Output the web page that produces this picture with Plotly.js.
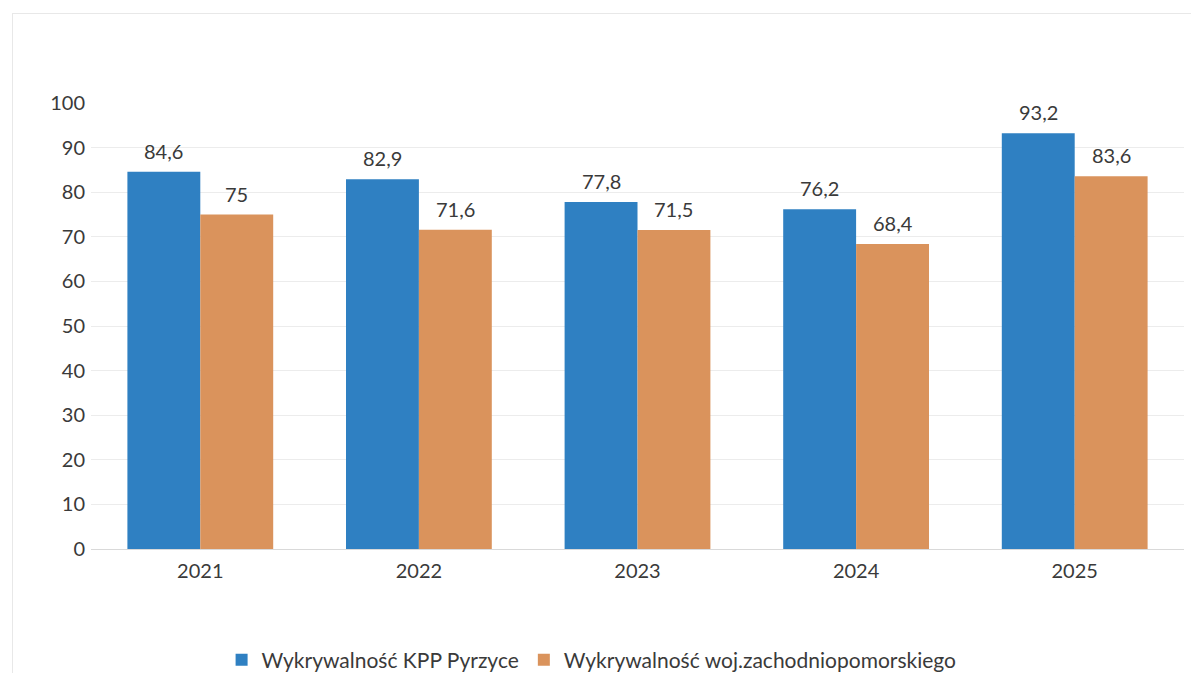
<!DOCTYPE html>
<html><head><meta charset="utf-8">
<script src="https://cdn.plot.ly/plotly-3.0.1.min.js"></script>
<style>
body{margin:0;padding:0;background:#fff;}
#wrap{position:relative;width:1191px;height:673px;overflow:hidden;}
#frame{position:absolute;left:12px;top:13px;width:1200px;height:700px;border:1px solid #e8e8e8;box-sizing:border-box;}
#chart{position:absolute;left:0;top:0;width:1191px;height:673px;}
</style></head>
<body><div id="wrap"><div id="frame"></div><div id="chart"></div></div>
<script>
const categories = ['2021','2022','2023','2024','2025'];
const kppPyrzyce = [84.6, 82.9, 77.8, 76.2, 93.2];
const wojZachodniopomorskie = [75, 71.6, 71.5, 68.4, 83.6];
const seriesNames = ['Wykrywalność KPP Pyrzyce', 'Wykrywalność woj.zachodniopomorskiego'];
const seriesColors = ['#2F80C2', '#DA935C'];
const fmt = v => String(v).replace('.', ',');
const FONT = 'Lato, "Open Sans", sans-serif';
const TXT = '#3a3a3a';
const series = [kppPyrzyce, wojZachodniopomorskie];
const traces = series.map((vals, i) => ({
  type:'bar', x:categories, y:vals, name:seriesNames[i], marker:{color:seriesColors[i]}
}));
const W = 1191, ML = 91, MR = 7, BARGAP = 0.333;
const band = (W - ML - MR) / categories.length;
const barW = band * (1 - BARGAP) / 2;
const annotations = [];
series.forEach((vals, i) => {
  vals.forEach((v, j) => {
    annotations.push({x:j, y:v, xref:'x', yref:'y', text:fmt(v), showarrow:false,
      xanchor:'center', yanchor:'bottom', xshift:(i === 0 ? -1 : 1) * barW / 2, yshift:7,
      font:{size:20, color:TXT, family:FONT}});
  });
});
const layout = {
  width:W, height:673,
  margin:{l:ML, r:MR, t:103, b:124, autoexpand:false},
  paper_bgcolor:'rgba(0,0,0,0)', plot_bgcolor:'rgba(0,0,0,0)',
  font:{family:FONT, size:20, color:TXT},
  barmode:'group', bargap:BARGAP, bargroupgap:0,
  xaxis:{type:'category', range:[-0.5, categories.length - 0.5], autorange:false, automargin:false,
         showgrid:false, showline:true, linecolor:'#d9d9d9', linewidth:1,
         ticks:'', tickfont:{size:20,color:TXT}, ticklabelstandoff:4},
  yaxis:{range:[0,100], autorange:false, automargin:false, dtick:10, showgrid:true, gridcolor:'#ececec', gridwidth:1,
         zeroline:false, showline:false, ticks:'', tickfont:{size:20,color:TXT}, ticklabelstandoff:5},
  annotations: annotations,
  showlegend:true,
  legend:{orientation:'h', x:0.458, xanchor:'center', y:-0.249, yanchor:'middle',
          font:{size:21,color:TXT}, traceorder:'normal'}
};
Plotly.newPlot('chart', traces, layout, {displayModeBar:false, staticPlot:true});
</script></body></html>
